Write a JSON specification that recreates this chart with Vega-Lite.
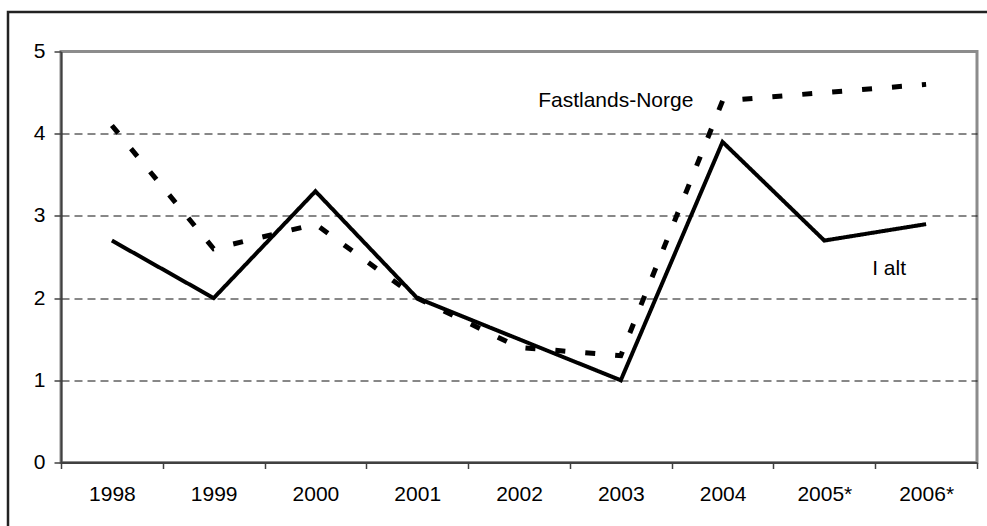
{
  "$schema": "https://vega.github.io/schema/vega-lite/v6.json",
  "width": 916,
  "height": 411,
  "autosize": {"type": "none"},
  "padding": {"left": 61, "top": 51.5, "right": 10, "bottom": 63.5},
  "background": "white",
  "config": {
    "view": {"stroke": "#8c8c8c", "strokeWidth": 3},
    "font": "Liberation Sans",
    "axis": {"labelFont": "Liberation Sans", "labelFontSize": 21, "labelColor": "#000000"}
  },
  "datasets": {
    "series": [
      {"year": "1998", "series": "I alt", "value": 2.7},
      {"year": "1999", "series": "I alt", "value": 2.0},
      {"year": "2000", "series": "I alt", "value": 3.3},
      {"year": "2001", "series": "I alt", "value": 2.0},
      {"year": "2002", "series": "I alt", "value": 1.5},
      {"year": "2003", "series": "I alt", "value": 1.0},
      {"year": "2004", "series": "I alt", "value": 3.9},
      {"year": "2005*", "series": "I alt", "value": 2.7},
      {"year": "2006*", "series": "I alt", "value": 2.9},
      {"year": "1998", "series": "Fastlands-Norge", "value": 4.1},
      {"year": "1999", "series": "Fastlands-Norge", "value": 2.6},
      {"year": "2000", "series": "Fastlands-Norge", "value": 2.9},
      {"year": "2001", "series": "Fastlands-Norge", "value": 2.0},
      {"year": "2002", "series": "Fastlands-Norge", "value": 1.4},
      {"year": "2003", "series": "Fastlands-Norge", "value": 1.3},
      {"year": "2004", "series": "Fastlands-Norge", "value": 4.4},
      {"year": "2005*", "series": "Fastlands-Norge", "value": 4.5},
      {"year": "2006*", "series": "Fastlands-Norge", "value": 4.6}
    ],
    "labels": [
      {"year": "2003", "value": 4.4, "label": "Fastlands-Norge"},
      {"year": "2006*", "value": 2.35, "label": "I alt"}
    ]
  },
  "layer": [
    {
      "data": {"values": [{}]},
      "mark": {"type": "rect", "fill": null, "stroke": "#222222", "strokeWidth": 2.5},
      "encoding": {
        "x": {"value": -53},
        "y": {"value": -39.5},
        "x2": {"value": 1000},
        "y2": {"value": 600}
      }
    },
    {
      "data": {"name": "series"},
      "mark": {"type": "line", "strokeJoin": "miter", "strokeCap": "butt", "color": "#000000"},
      "encoding": {
        "x": {
          "field": "year",
          "type": "ordinal",
          "scale": {"type": "band", "domain": ["1998", "1999", "2000", "2001", "2002", "2003", "2004", "2005*", "2006*"], "paddingInner": 0, "paddingOuter": 0},
          "axis": {
            "title": null,
            "labelAngle": 0,
            "tickBand": "extent",
            "tickSize": 6,
            "tickWidth": 1.5,
            "tickColor": "#404040",
            "domainColor": "#404040",
            "domainWidth": 2,
            "labelPadding": 15,
            "grid": false
          }
        },
        "y": {
          "field": "value",
          "type": "quantitative",
          "scale": {"domain": [0, 5], "nice": false},
          "axis": {
            "title": null,
            "values": [0, 1, 2, 3, 4, 5],
            "format": "d",
            "tickSize": 7,
            "tickWidth": 1.5,
            "tickColor": "#404040",
            "domainColor": "#404040",
            "domainWidth": 2,
            "labelPadding": 9,
            "grid": true,
            "gridDash": [8, 5],
            "gridColor": "#111111",
            "gridWidth": 1,
            "gridOpacity": {"condition": {"test": "datum.value === 0 || datum.value === 5", "value": 0}, "value": 1}
          }
        },
        "strokeDash": {
          "field": "series",
          "type": "nominal",
          "scale": {"domain": ["I alt", "Fastlands-Norge"], "range": [[1, 0], [10, 20]]},
          "legend": null
        },
        "strokeWidth": {
          "field": "series",
          "type": "nominal",
          "scale": {"type": "ordinal", "domain": ["I alt", "Fastlands-Norge"], "range": [4, 5]},
          "legend": null
        }
      }
    },
    {
      "data": {"name": "labels"},
      "transform": [{"filter": "datum.label === 'Fastlands-Norge'"}],
      "mark": {"type": "text", "fontSize": 21, "font": "Liberation Sans", "color": "#000000", "dx": -5, "align": "center", "baseline": "middle"},
      "encoding": {
        "x": {"field": "year", "type": "ordinal"},
        "y": {"field": "value", "type": "quantitative"},
        "text": {"field": "label"}
      }
    },
    {
      "data": {"name": "labels"},
      "transform": [{"filter": "datum.label === 'I alt'"}],
      "mark": {"type": "text", "fontSize": 21, "font": "Liberation Sans", "color": "#000000", "dx": -37, "align": "center", "baseline": "middle"},
      "encoding": {
        "x": {"field": "year", "type": "ordinal"},
        "y": {"field": "value", "type": "quantitative"},
        "text": {"field": "label"}
      }
    }
  ]
}
